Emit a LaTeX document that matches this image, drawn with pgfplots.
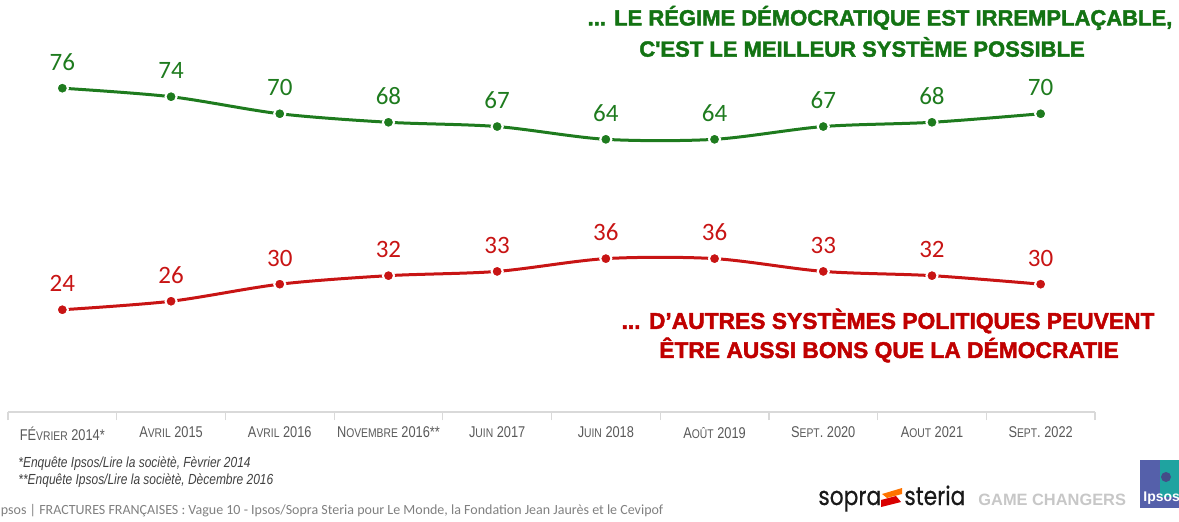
\documentclass[border=0pt]{standalone}
\usepackage{fontspec}
\setmainfont{Liberation Sans}
\newfontfamily\numfont{Carlito}
\newfontfamily\narrow[FakeStretch=0.82]{Liberation Sans}
\newfontfamily\heavy[FakeBold=2]{Liberation Sans Bold}
\newfontfamily\logofont[FakeStretch=0.85,FakeBold=0.6]{Poppins}
\usepackage{pgfplots}
\pgfplotsset{compat=1.18}
\definecolor{gline}{HTML}{1E7B1E}
\definecolor{gtext}{HTML}{137313}
\definecolor{rline}{HTML}{C81414}
\definecolor{rtext}{HTML}{C00000}
\definecolor{axgrey}{HTML}{D9D9D9}
\definecolor{lblgrey}{HTML}{595959}
\definecolor{ipsblue}{HTML}{5560AA}
\definecolor{ipsteal}{HTML}{1FA3A0}
\newcommand\sm[1]{{\fontsize{6.3}{7}\selectfont #1}}
\begin{document}
\begin{tikzpicture}
\useasboundingbox (0,0) rectangle (589.5pt,260.5pt);
\begin{axis}[
  at={(4pt,54.5pt)}, anchor=south west,
  width=543.5pt, height=206pt, scale only axis,
  xmin=-0.5, xmax=9.5, ymin=0, ymax=96.7,
  clip=false,
  hide y axis,
  axis x line*=bottom,
  x axis line style={draw=axgrey, line width=0.8pt, -},
  xtick={0,...,9},
  major tick length=0pt,
  /pgf/number format/assume math mode=true,
  xticklabels={{F\'E\sm{VRIER} 2014*},{A\sm{VRIL} 2015},{A\sm{VRIL} 2016},{N\sm{OVEMBRE} 2016**},{J\sm{UIN} 2017},{J\sm{UIN} 2018},{A\sm{OÛT} 2019},{S\sm{EPT}. 2020},{A\sm{OUT} 2021},{S\sm{EPT}. 2022}},
  xticklabel style={font=\narrow\fontsize{7.8}{9}\selectfont, text=lblgrey, yshift=-4pt},
  extra x ticks={-0.5,0.5,...,9.5},
  extra x tick labels={},
  extra x tick style={major tick length=4pt, tick align=outside, tick style={draw=axgrey, line width=0.6pt}},
  nodes near coords,
  every node near coord/.append style={anchor=base, yshift=9pt, inner sep=0pt, font=\numfont\fontsize{12.5}{14}\selectfont},
]
\addplot[gline, line width=1.5pt, smooth, tension=0.5, mark=*, mark size=2.8pt,
  mark options={fill=gline, draw=white, line width=1pt}, nodes near coords style={text=gline}]
  coordinates {(0,76)(1,74)(2,70)(3,68)(4,67)(5,64)(6,64)(7,67)(8,68)(9,70)};
\addplot[rline, line width=1.5pt, smooth, tension=0.5, mark=*, mark size=2.8pt,
  mark options={fill=rline, draw=white, line width=1pt}, nodes near coords style={text=rline}]
  coordinates {(0,24)(1,26)(2,30)(3,32)(4,33)(5,36)(6,36)(7,33)(8,32)(9,30)};
\end{axis}
% titles
\node[font=\heavy\fontsize{11}{12}\selectfont, text=gtext, inner sep=0] at (440pt,251.5pt) {... LE RÉGIME DÉMOCRATIQUE EST IRREMPLAÇABLE,};
\node[font=\heavy\fontsize{11}{12}\selectfont, text=gtext, inner sep=0] at (431pt,237pt) {C'EST LE MEILLEUR SYSTÈME POSSIBLE};
\node[font=\heavy\fontsize{11.4}{12}\selectfont, text=rtext, inner sep=0] at (444pt,100pt) {... D’AUTRES SYSTÈMES POLITIQUES PEUVENT};
\node[font=\heavy\fontsize{11.4}{12}\selectfont, text=rtext, inner sep=0] at (444.5pt,85.5pt) {ÊTRE AUSSI BONS QUE LA DÉMOCRATIE};
% footnotes
\node[font=\narrow\itshape\fontsize{7.3}{8}\selectfont, text=black!75, anchor=west, inner sep=0] at (9pt,28.5pt) {*Enquête Ipsos/Lire la sociètè, Fèvrier 2014};
\node[font=\narrow\itshape\fontsize{7.3}{8}\selectfont, text=black!75, anchor=west, inner sep=0] at (9pt,20pt) {**Enquête Ipsos/Lire la sociètè, Dècembre 2016};
% source
\node[font=\numfont\fontsize{7}{8}\selectfont, text=black!50, anchor=west, inner sep=0] at (-1.5pt,5pt) {Ipsos | FRACTURES FRANÇAISES : Vague 10 - Ipsos/Sopra Steria pour Le Monde, la Fondation Jean Jaurès et le Cevipof};
% logos
\node[font=\logofont\fontsize{12.8}{14}\selectfont, text=black!90, anchor=base west, inner sep=0] at (409pt,8pt) {sopra};
\fill[orange!90!red] (441pt,13.5pt) -- (451pt,16.5pt) -- (451pt,13.5pt) -- (443.5pt,11.5pt) -- cycle;
\fill[red!85!black] (440.5pt,7pt) -- (450.5pt,9.5pt) -- (448pt,12.5pt) -- (440.5pt,10.5pt) -- cycle;
\node[font=\logofont\fontsize{12.8}{14}\selectfont, text=black!90, anchor=base west, inner sep=0] at (452pt,8pt) {steria};
\node[font=\bfseries\fontsize{8.2}{9}\selectfont, text=black!22, anchor=base west, inner sep=0] at (489pt,8pt) {GAME CHANGERS};
\fill[ipsblue] (570pt,6.5pt) rectangle (592pt,30.5pt);
\fill[ipsteal] (580pt,12pt) rectangle (592pt,30.5pt);
\fill[ipsblue!80!black] (583pt,22pt) circle (2.5pt);
\node[font=\bfseries\fontsize{7}{8}\selectfont, text=white, anchor=base west, inner sep=0] at (571.5pt,10pt) {Ipsos};
\end{tikzpicture}
\end{document}
